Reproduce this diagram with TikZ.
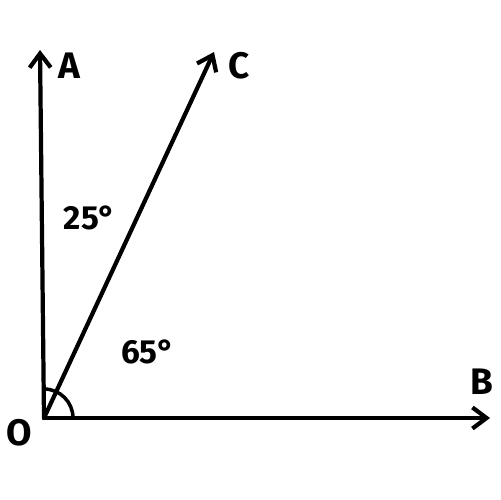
\documentclass[tikz,border=0pt]{standalone}
\usepackage{fontspec}
\setmainfont{Fira Sans}
\usetikzlibrary{arrows.meta}
\begin{document}
\begin{tikzpicture}[x=0.02cm,y=-0.02cm,
  ray/.style={line width=2.4pt,line cap=round,-{Straight Barb[length=8pt,width=12pt,line width=2.4pt]}},
  lbl/.style={font=\fontsize{21}{24}\selectfont\bfseries},
  ang/.style={font=\fontsize{19}{22}\selectfont\bfseries}]
\useasboundingbox (0,0) rectangle (500,500);
\coordinate (O) at (44,418);
\coordinate (A) at (40,50);
\coordinate (C) at (214,52);
\coordinate (B) at (490,418);
\draw[ray] (O) -- (A);
\draw[ray] (O) -- (C);
\draw[ray] (O) -- (B);
\draw[line width=2pt] (73,418) arc[start angle=0,end angle=-90,radius=29];
\node[lbl] (la) at (69,66) {A};
\node[lbl] (lc) at (239,66) {C};
\node[lbl] (lb) at (482,382) {B};
\node[lbl] (lo) at (19,433) {O};
\node[ang] (a25) at (90,218) {25°};
\node[ang] (a65) at (148,352) {65°};
\end{tikzpicture}
\end{document}
